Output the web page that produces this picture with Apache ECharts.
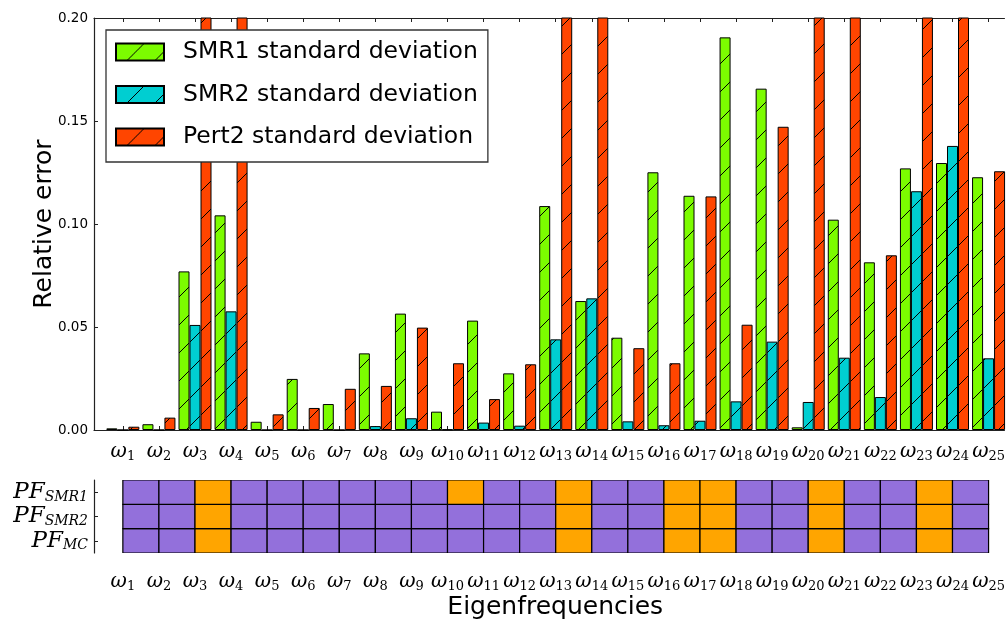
<!DOCTYPE html>
<html>
<head>
<meta charset="utf-8">
<script src="https://cdn.jsdelivr.net/npm/echarts@6/dist/echarts.min.js"></script>
<style>
  html, body { margin: 0; padding: 0; background: #fff; }
  #chart { width: 1008px; height: 621px; }
</style>
</head>
<body>
<div id="chart"></div>
<script>
// eigenfrequency index (omega_n)
const freqIdx = [1, 2, 3, 4, 5, 6, 7, 8, 9, 10, 11, 12, 13, 14, 15, 16, 17, 18, 19, 20, 21, 22, 23, 24, 25];

// relative error, standard deviations
const smr1 = [0.0008, 0.0028, 0.077, 0.1042, 0.004, 0.0248, 0.0126, 0.0372, 0.0565, 0.0089, 0.0531, 0.0275, 0.1087,
  0.0626, 0.0448, 0.1251, 0.1137, 0.1906, 0.1657, 0.0013, 0.1021, 0.0814, 0.127, 0.1296, 0.1227];
const smr2 = [0, 0, 0.051, 0.0576, 0, 0, 0, 0.0019, 0.0057, 0.0003, 0.0036, 0.0021, 0.044,
  0.0639, 0.0042, 0.0023, 0.0045, 0.0139, 0.0429, 0.0136, 0.0351, 0.016, 0.1159, 0.1379, 0.0348];
// values above 0.20 are off the scale in the original
const pert2 = [0.0016, 0.006, 0.25, 0.25, 0.0076, 0.0107, 0.020, 0.0214, 0.0497, 0.0324, 0.015, 0.0319, 0.25,
  0.25, 0.0397, 0.0324, 0.1134, 0.0511, 0.1472, 0.25, 0.25, 0.0848, 0.25, 0.25, 0.1256];

const seriesNames = ['SMR1 standard deviation', 'SMR2 standard deviation', 'Pert2 standard deviation'];

// pass/fail flags, one cell between omega_n and omega_n+1 (1 = orange)
const pfRows = ['PF_MC', 'PF_SMR2', 'PF_SMR1'];
const pfSMR1 = [0, 0, 1, 0, 0, 0, 0, 0, 0, 1, 0, 0, 1, 0, 0, 1, 1, 0, 0, 1, 0, 0, 1, 0];
const pfSMR2 = [0, 0, 1, 0, 0, 0, 0, 0, 0, 0, 0, 0, 1, 0, 0, 1, 1, 0, 0, 1, 0, 0, 1, 0];
const pfMC   = [0, 0, 1, 0, 0, 0, 0, 0, 0, 0, 0, 0, 1, 0, 0, 1, 1, 0, 0, 1, 0, 0, 1, 0];

const hatch = (color) => {
  const s = 28;
  const c = document.createElement('canvas');
  c.width = s; c.height = s;
  const ctx = c.getContext('2d');
  ctx.fillStyle = color;
  ctx.fillRect(0, 0, s, s);
  ctx.strokeStyle = '#000';
  ctx.lineWidth = 1;
  ctx.beginPath();
  ctx.moveTo(-2, s + 2); ctx.lineTo(s + 2, -2);
  ctx.moveTo(-2, 2); ctx.lineTo(2, -2);
  ctx.moveTo(s - 2, s + 2); ctx.lineTo(s + 2, s - 2);
  ctx.stroke();
  return { image: c, repeat: 'repeat' };
};

const omegaLabel = {
  formatter: (v) => '{w|ω}{s|' + Math.round(v) + '}',
  rich: {
    w: { fontFamily: 'DejaVu Serif', fontStyle: 'italic', fontSize: 20, color: '#000' },
    s: { fontFamily: 'DejaVu Serif', fontSize: 13, color: '#000', padding: [10, 0, 0, 0] }
  }
};

const chart = echarts.init(document.getElementById('chart'));

const barColors = ['#7CFC00', '#00CED1', '#FF4500'];
const barData = [smr1, smr2, pert2];

const bars = barData.map((arr, i) => ({
  name: seriesNames[i],
  type: 'bar',
  xAxisIndex: 0,
  yAxisIndex: 0,
  barWidth: 11,
  barGap: '0%',
  clip: true,
  itemStyle: { color: hatch(barColors[i]), borderColor: '#000', borderWidth: 1 },
  emphasis: { disabled: true },
  data: arr.map((v, j) => [freqIdx[j], v])
}));

const cells = [];
[pfMC, pfSMR2, pfSMR1].forEach((row, r) => {
  row.forEach((v, j) => cells.push([freqIdx[j], r, v]));
});

// plot area is cut off on the right in the original figure
const xCommon = {
  type: 'value',
  min: 0.2,
  max: 25.44,
  splitLine: { show: false },
  axisLine: { lineStyle: { color: '#222', width: 1.2 } }
};

chart.setOption({
  animation: false,
  legend: {
    left: 106,
    top: 30,
    orient: 'vertical',
    padding: [10, 10, 13, 9],
    itemWidth: 48,
    itemHeight: 17,
    itemGap: 18.5,
    borderColor: '#333',
    borderWidth: 1.3,
    backgroundColor: '#fff',
    textStyle: { fontFamily: 'DejaVu Sans', fontSize: 23.5, color: '#000', lineHeight: 17, padding: [0, 0, 0, 14] },
    data: seriesNames.map((n) => ({ name: n, icon: 'rect' }))
  },
  grid: [
    { left: 94, right: 0, top: 18, height: 412 },
    { left: 94, right: 0, top: 480, height: 83 }
  ],
  xAxis: [
    Object.assign({}, xCommon, {
      gridIndex: 0,
      position: 'bottom',
      axisTick: { inside: true, length: 4, customValues: freqIdx, lineStyle: { color: '#222' } },
      axisLabel: Object.assign({ customValues: freqIdx, margin: 10 }, omegaLabel)
    }),
    Object.assign({}, xCommon, {
      gridIndex: 0,
      position: 'top',
      axisTick: { inside: true, length: 4, customValues: freqIdx, lineStyle: { color: '#222' } },
      axisLabel: { show: false }
    }),
    Object.assign({}, xCommon, {
      gridIndex: 1,
      position: 'bottom',
      axisTick: { show: false },
      axisLabel: Object.assign({ customValues: freqIdx, margin: 17 }, omegaLabel),
      name: 'Eigenfrequencies',
      nameLocation: 'middle',
      nameGap: 42,
      nameTextStyle: { fontFamily: 'DejaVu Sans', fontSize: 25, color: '#000', padding: [0, 0, 0, 12] }
    }),
    Object.assign({}, xCommon, {
      gridIndex: 1,
      position: 'top',
      axisLine: { lineStyle: { color: '#888', width: 1.2 } },
      axisTick: { show: false },
      axisLabel: { show: false }
    })
  ],
  yAxis: [
    {
      type: 'value',
      gridIndex: 0,
      min: 0,
      max: 0.2,
      interval: 0.05,
      splitLine: { show: false },
      axisLine: { show: true, lineStyle: { color: '#222', width: 1.2 } },
      axisTick: { show: true, inside: true, length: 4, lineStyle: { color: '#222' } },
      axisLabel: {
        margin: 6,
        fontFamily: 'DejaVu Sans',
        fontSize: 13.5,
        color: '#000',
        formatter: (v) => v.toFixed(2)
      },
      name: 'Relative error',
      nameLocation: 'middle',
      nameGap: 37,
      nameMoveOverlap: false,
      nameTextStyle: { fontFamily: 'DejaVu Sans', fontSize: 25, color: '#000' }
    },
    {
      type: 'category',
      gridIndex: 1,
      data: pfRows,
      axisLine: { show: true, lineStyle: { color: '#222', width: 1.2 } },
      axisTick: { show: true, inside: true, length: 4, alignWithLabel: true, lineStyle: { color: '#222' } },
      axisLabel: {
        margin: 6,
        formatter: (v) => {
          const p = v.split('_');
          return '{p|' + p[0] + '}{s|' + p[1] + '}';
        },
        rich: {
          p: { fontFamily: 'DejaVu Serif', fontStyle: 'italic', fontSize: 23, color: '#000' },
          s: { fontFamily: 'DejaVu Serif', fontStyle: 'italic', fontSize: 14, color: '#000', padding: [10, 0, 0, 0] }
        }
      }
    }
  ],
  series: bars.concat([
    {
      type: 'custom',
      xAxisIndex: 2,
      yAxisIndex: 1,
      clip: true,
      silent: true,
      data: cells,
      renderItem: (params, api) => {
        const a = api.coord([api.value(0), api.value(1)]);
        const b = api.coord([api.value(0) + 1, api.value(1)]);
        const h = api.size([0, 1])[1];
        return {
          type: 'rect',
          shape: { x: a[0], y: a[1] - h / 2, width: b[0] - a[0], height: h },
          style: { fill: api.value(2) ? '#FFA500' : '#9370DB', stroke: '#000', lineWidth: 1.2 }
        };
      }
    }
  ])
});
</script>
</body>
</html>
